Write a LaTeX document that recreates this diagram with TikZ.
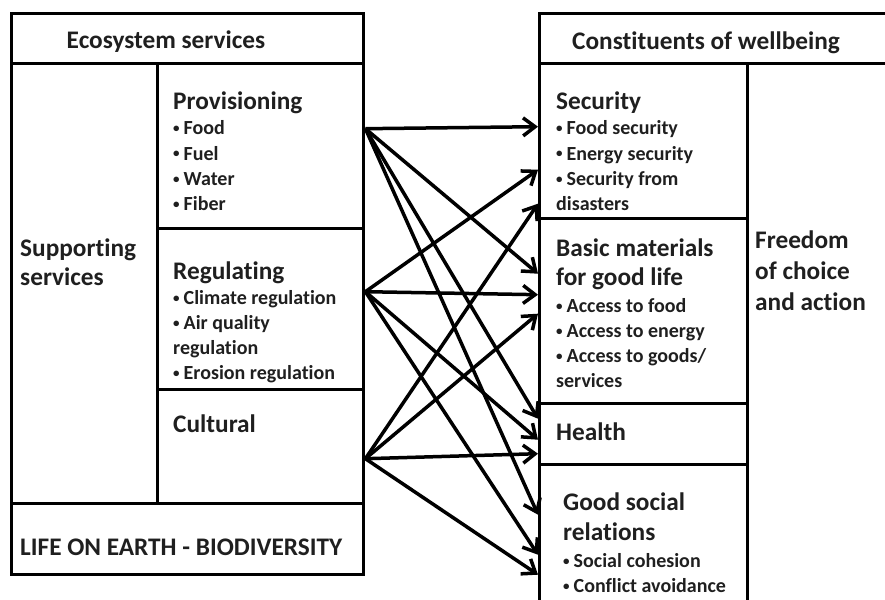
\documentclass[tikz,border=0pt]{standalone}
\usepackage{fontspec}
\setmainfont{Carlito}[Ligatures = NoCommon]
\usetikzlibrary{arrows.meta}
\newcommand\bul{\raisebox{2pt}{\fontsize{13}{13}\selectfont •}\hspace{4pt}}
\tikzset{x = 1pt, y = -1pt, > = {Straight Barb[length=12pt, width=18pt]},
  box/.style = {draw, line width = 3.4pt, anchor = north west, inner sep = 0pt},
  head/.style = {font = \fontsize{25.3}{30}\selectfont\bfseries, text = black!88,
    anchor = base west, inner sep = 0pt},
  item/.style = {font = \fontsize{20}{25}\selectfont\bfseries, text = black!88,
    anchor = base west, inner sep = 0pt},
  link/.style = {->, line width = 3.5pt}}

\begin{document}
\begin{tikzpicture}
  \useasboundingbox (0, 0) rectangle (885, 599);
  \clip (0, 0) rectangle (885, 599);
  % boxes
  \foreach \n/\x/\y/\w/\h in {eshead/10/12/352/50, support/10/62/146/440,
      prov/156/62/206/165, reg/156/227/206/161, cult/156/388/206/114,
      bio/10/502/352/71, cwhead/538/12/380/50, sec/538/62/208/155,
      basic/538/217/208/185, health/538/402/208/61, social/538/463/208/160,
      freedom/746/62/172/561} {
    \node [box, minimum width = \w, minimum height = \h] (\n) at (\x, \y) {};
  }
  % texts, left
  \node [head, anchor = base] (eshead-t) at (166, 49) {Ecosystem services};
  \node [head] (prov-t) at (173, 110) {Provisioning};
  \foreach \t [count = \i] in {Food, Fuel, Water, Fiber}
    \node [item] (prov-\i) at (173, 110 + 25 * \i) {\bul \t};
  \foreach \t [count = \i] in {Supporting, services}
    \node [head] (support-\i) at (20, 227 + 29 * \i) {\t};
  \node [head] (reg-t) at (173, 279) {Regulating};
  \foreach \t [count = \i] in {\bul Climate regulation, \bul Air quality, regulation,
      \bul Erosion regulation}
    \node [item] (reg-\i) at (173, 279 + 25 * \i) {\t};
  \node [head] (cult-t) at (173, 432) {Cultural};
  \node [head] (bio-t) at (20, 555) {LIFE ON EARTH - BIODIVERSITY};
  % texts, right
  \node [head, anchor = base] (cwhead-t) at (706, 50) {Constituents of wellbeing};
  \node [head] (sec-t) at (556, 110) {Security};
  \foreach \t [count = \i] in {\bul Food security, \bul Energy security,
      \bul Security from, disasters}
    \node [item] (sec-\i) at (556, 110 + 25 * \i) {\t};
  \foreach \t [count = \i] in {Basic materials, for good life}
    \node [head] (basic-t\i) at (556, 227 + 29 * \i) {\t};
  \foreach \t [count = \i] in {\bul Access to food, \bul Access to energy,
      \bul Access to goods/, services}
    \node [item] (basic-\i) at (556, 287 + 25 * \i) {\t};
  \node [head] (health-t) at (556, 440) {Health};
  \foreach \t [count = \i] in {Good social, relations}
    \node [head] (social-t\i) at (563, 480 + 30 * \i) {\t};
  \foreach \t [count = \i] in {\bul Social cohesion, \bul Conflict avoidance}
    \node [item] (social-\i) at (563, 542 + 25 * \i) {\t};
  \foreach \t [count = \i] in {Freedom, of choice, and action}
    \node [head] (freedom-\i) at (755, 217 + 31 * \i) {\t};
  % links
  \foreach \s/\ds/\d/\dd in {prov/17.5/sec/14.5, prov/17.5/basic/37.5,
      prov/17.5/health/15.5, prov/17.5/social/30,
      reg/17.5/sec/-28.5, reg/17.5/basic/16.5,
      reg/17.5/health/-5.5, reg/17.5/social/-10,
      cult/-12/sec/-62.5, cult/-12/basic/-2.5,
      cult/-12/health/-19.5, cult/-12/social/-30}
    \draw [link] ([yshift = \ds] \s.east) -- ([yshift = \dd] \d.west);
\end{tikzpicture}
\end{document}
